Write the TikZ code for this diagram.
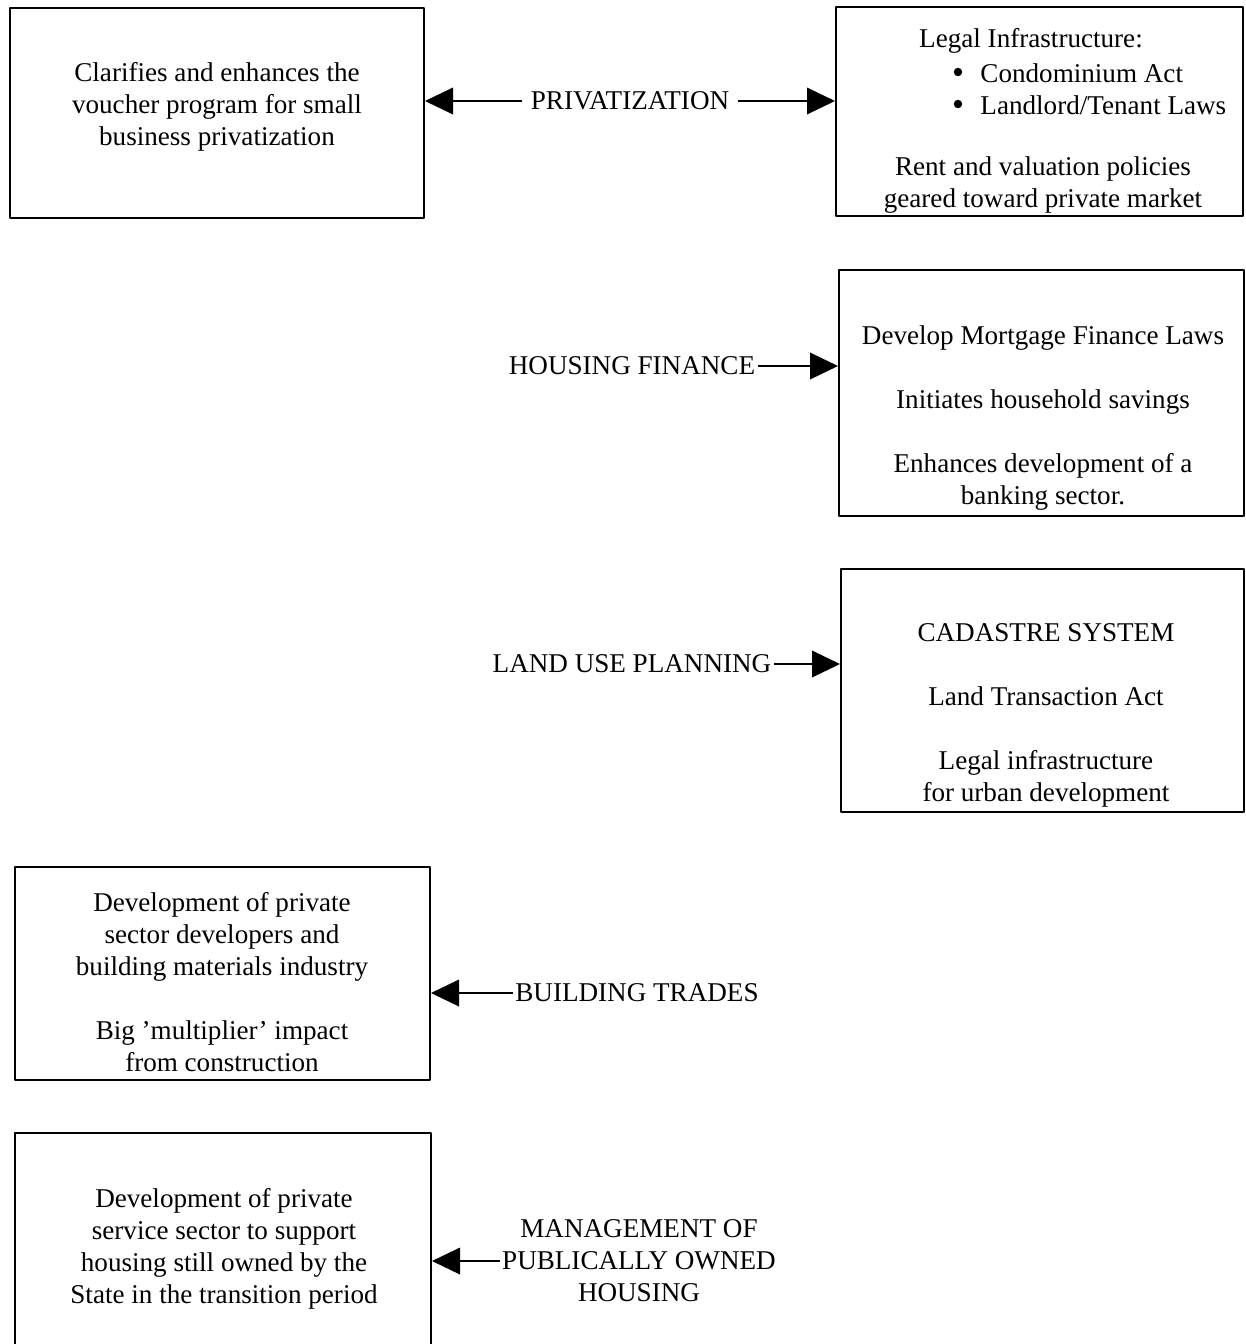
\documentclass[tikz,border=0pt]{standalone}
\usepackage{fontspec}
\setmainfont{Liberation Serif}
\usetikzlibrary{arrows.meta,fit}

\begin{document}
\begin{tikzpicture}[x=0.45pt, y=-0.45pt, font=\fontsize{12.2}{14.4}\selectfont, line join=round, >={Triangle[length=12.6pt,width=12pt]}]
	\tikzset{policy-box/.style={draw, line width=0.9pt, inner sep=0pt},
		box-text/.style={align=center, inner sep=0pt},
		sector/.style={align=center, inner sep=1pt},
		link/.style={->, line width=0.6pt}}
	\clip (0,0) rectangle (1246,1344);
	% boxes
	\node[policy-box, fit={(10,8) (424,218)}] (voucher-box) {};
	\node[policy-box, fit={(836,7) (1243,216)}] (legal-box) {};
	\node[policy-box, fit={(839,270) (1244,516)}] (finance-box) {};
	\node[policy-box, fit={(841,569) (1244,812)}] (cadastre-box) {};
	\node[policy-box, fit={(15,867) (430,1080)}] (trades-box) {};
	\node[policy-box, fit={(15,1133) (431,1360)}] (service-box) {};
	% box texts
	\node[box-text] (voucher-txt) at (217,107) {Clarifies and enhances the\\voucher program for small\\business privatization};
	\node[box-text] (legal-title) at (1031,41) {Legal Infrastructure:};
	\node[box-text, anchor=west] (condo) at (980,73) {Condominium Act};
	\node[box-text, anchor=west] (tenant) at (980,105) {Landlord/Tenant Laws};
	\fill (958,72) circle (1.9pt) (958,104) circle (1.9pt);
	\node[box-text] (rent-txt) at (1043,185) {Rent and valuation policies\\geared toward private market};
	\node[box-text] (finance-txt) at (1043,418) {Develop Mortgage Finance Laws\\[14.4pt]Initiates household savings\\[14.4pt]Enhances development of a\\banking sector.};
	\node[box-text] (cadastre-txt) at (1046,715) {CADASTRE SYSTEM\\[14.4pt]Land Transaction Act\\[14.4pt]Legal infrastructure\\for urban development};
	\node[box-text] (trades-txt) at (222,982) {Development of private\\sector developers and\\building materials industry\\[14.4pt]Big 'multiplier' impact\\from construction};
	\node[box-text] (service-txt) at (224,1249) {Development of private\\service sector to support\\housing still owned by the\\State in the transition period};
	% sectors
	\node[sector, inner sep=4pt] (priv) at (630,101) {PRIVATIZATION};
	\node[sector] (finance) at (632,366) {HOUSING FINANCE};
	\node[sector] (land) at (632,664) {LAND USE PLANNING};
	\node[sector] (trades) at (637,993) {BUILDING TRADES};
	\node[sector] (manage) at (639,1261) {MANAGEMENT OF\\PUBLICALLY OWNED\\HOUSING};
	% connectors
	\draw[link] (priv.west) -- (voucher-box.east |- priv.west);
	\draw[link] (priv.east) -- (legal-box.west |- priv.east);
	\draw[link] (finance.east) -- (finance-box.west |- finance.east);
	\draw[link] (land.east) -- (cadastre-box.west |- land.east);
	\draw[link] (trades.west) -- (trades-box.east |- trades.west);
	\draw[link] (manage.west) -- (service-box.east |- manage.west);
\end{tikzpicture}
\end{document}
